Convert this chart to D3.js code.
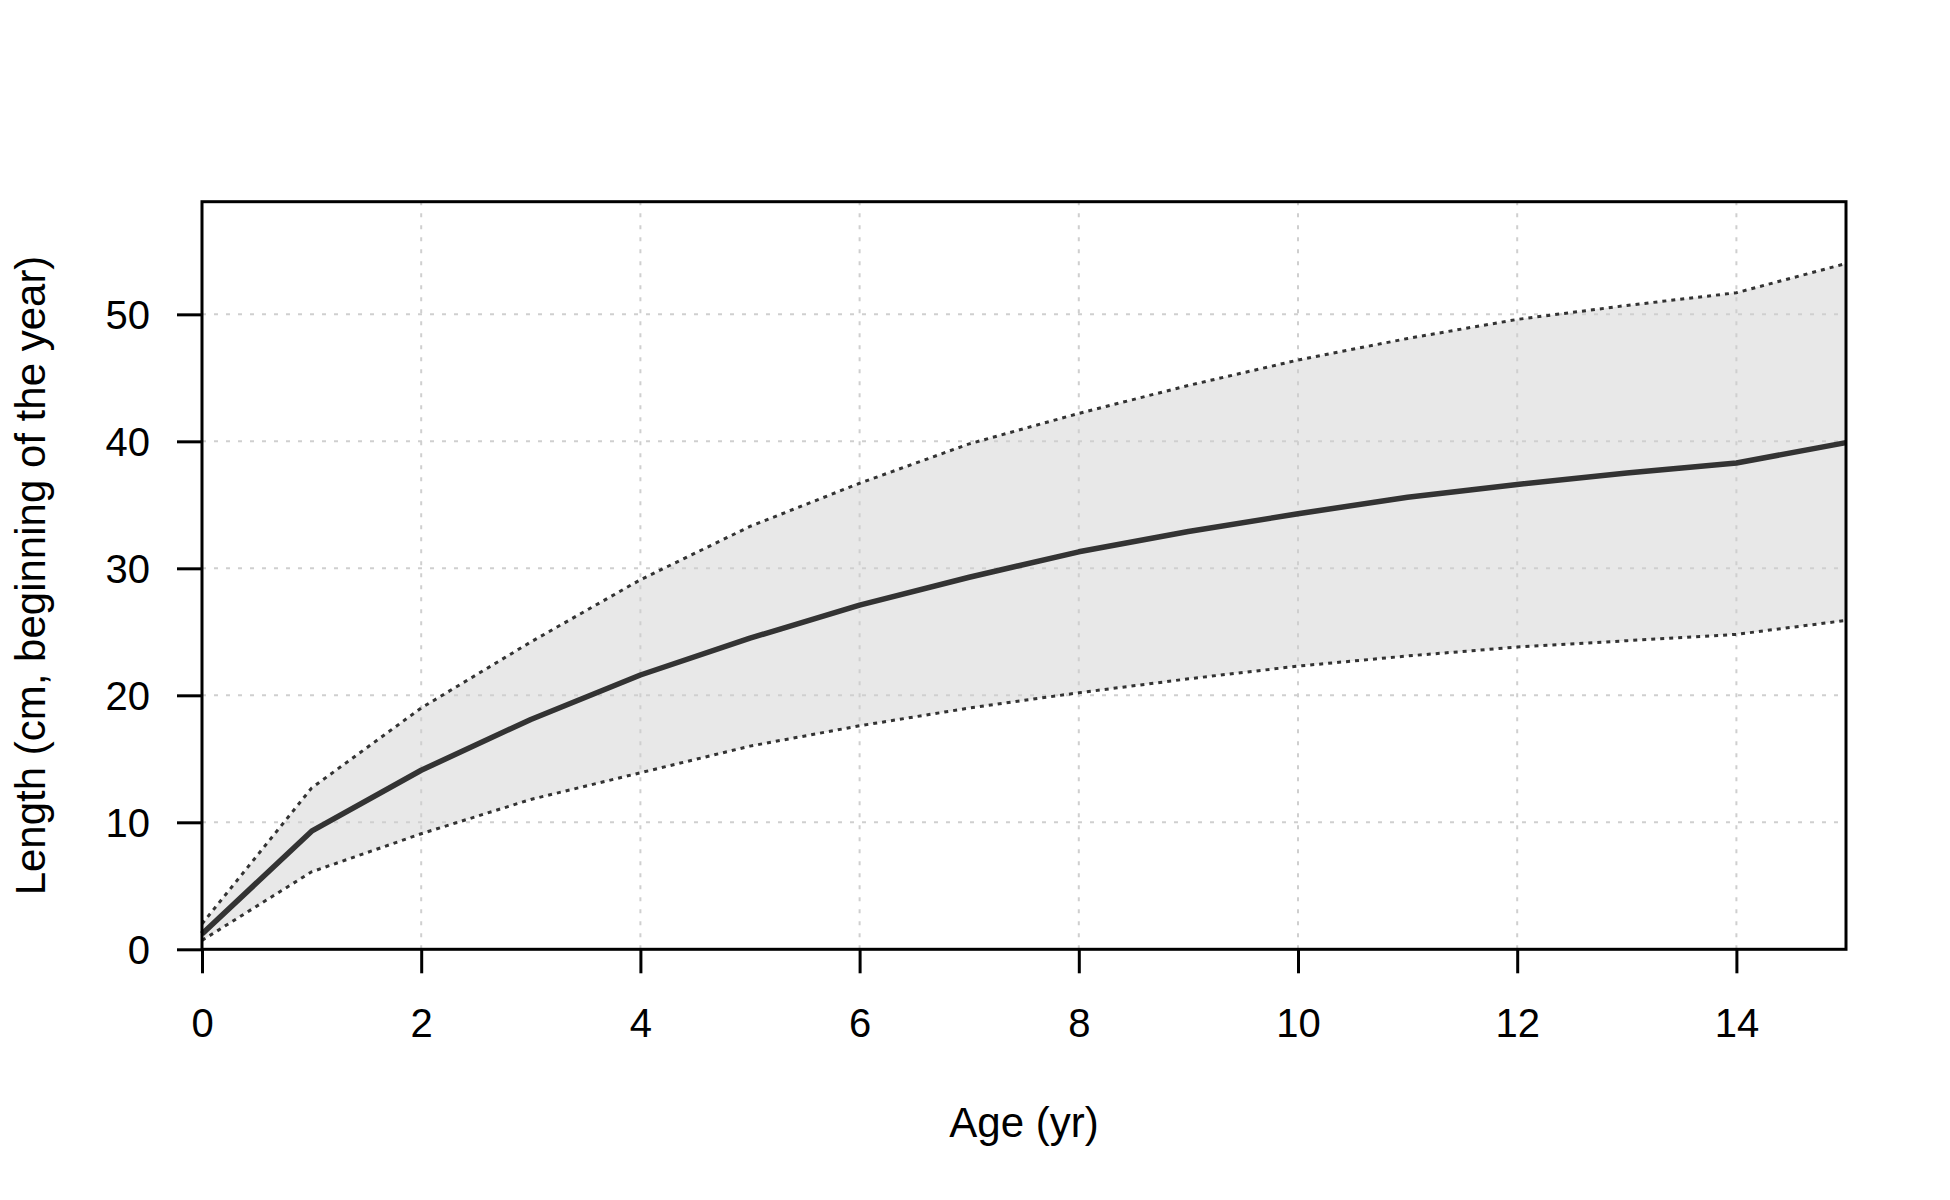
<!DOCTYPE html>
<html>
<head>
<meta charset="utf-8">
<script src="https://cdn.jsdelivr.net/npm/d3@7"></script>
<style>
  html, body { margin: 0; padding: 0; background: #fff; }
  svg { display: block; }
  text { font-family: Arial, "Liberation Sans", sans-serif; fill: #000; }
</style>
</head>
<body>
<svg id="chart" width="1950" height="1200"></svg>
<script>
// ---- data ----
const ages = [0, 1, 2, 3, 4, 5, 6, 7, 8, 9, 10, 11, 12, 13, 14, 15];
const lengthMean  = [1.2, 9.3, 14.1, 18.1, 21.6, 24.5, 27.1, 29.3, 31.3, 32.9, 34.3, 35.6, 36.6, 37.5, 38.3, 39.9];
const lengthUpper = [2.0, 12.7, 19.0, 24.2, 29.1, 33.3, 36.7, 39.8, 42.2, 44.4, 46.4, 48.1, 49.6, 50.7, 51.7, 54.0];
const lengthLower = [0.7, 6.1, 9.1, 11.8, 13.9, 16.0, 17.6, 19.0, 20.2, 21.3, 22.3, 23.1, 23.8, 24.3, 24.8, 25.9];
const xTicks = [0, 2, 4, 6, 8, 10, 12, 14];
const yTicks = [0, 10, 20, 30, 40, 50];
const xTitle = "Age (yr)";
const yTitle = "Length (cm, beginning of the year)";

// ---- layout ----
const svg = d3.select("#chart");
const L = 202, R = 1846, T = 201.7, B = 949.3;
const x = d3.scaleLinear().domain([0, 15]).range([L, R]);
const y = d3.scaleLinear().domain([0, 58.87]).range([B, T]);

svg.append("rect").attr("width", 1950).attr("height", 1200).attr("fill", "#fff");

const rows = ages.map((a, i) => ({ a, m: lengthMean[i], u: lengthUpper[i], l: lengthLower[i] }));

// band
svg.append("path")
  .datum(rows)
  .attr("fill", "#e8e8e8")
  .attr("d", d3.area().x(d => x(d.a)).y0(d => y(d.l)).y1(d => y(d.u)));

// grid
const grid = svg.append("g").attr("stroke", "#cfcfcf").attr("stroke-width", 2)
  .attr("stroke-dasharray", "4,8").attr("fill", "none");
grid.selectAll("line.v").data(xTicks.filter(v => v > 0)).join("line")
  .attr("x1", d => x(d)).attr("x2", d => x(d)).attr("y1", B).attr("y2", T);
grid.selectAll("line.h").data(yTicks.filter(v => v > 0)).join("line")
  .attr("y1", d => y(d)).attr("y2", d => y(d)).attr("x1", L).attr("x2", R);

// bounds
["u", "l"].forEach(k => {
  svg.append("path").datum(rows)
    .attr("fill", "none").attr("stroke", "#333").attr("stroke-width", 3)
    .attr("stroke-dasharray", "4,5")
    .attr("d", d3.line().x(d => x(d.a)).y(d => y(d[k])));
});

// mean line
svg.append("path").datum(rows)
  .attr("fill", "none").attr("stroke", "#333").attr("stroke-width", 5.5)
  .attr("stroke-linejoin", "round")
  .attr("d", d3.line().x(d => x(d.a)).y(d => y(d.m)));

// axes
const xAxis = svg.append("g").attr("transform", `translate(0,${B})`)
  .call(d3.axisBottom(x).tickValues(xTicks).tickSize(24).tickPadding(0).tickFormat(d3.format("d")));
xAxis.select(".domain").remove();
xAxis.selectAll(".tick line").attr("stroke", "#000").attr("stroke-width", 3);
xAxis.selectAll(".tick text").attr("font-size", 40).attr("y", 88).attr("dy", null)
  .attr("font-family", "Arial, 'Liberation Sans', sans-serif").attr("fill", "#000");

const yAxis = svg.append("g").attr("transform", `translate(${L},0)`)
  .call(d3.axisLeft(y).tickValues(yTicks).tickSize(25).tickPadding(0).tickFormat(d3.format("d")));
yAxis.select(".domain").remove();
yAxis.selectAll(".tick line").attr("stroke", "#000").attr("stroke-width", 3);
yAxis.selectAll(".tick text").attr("font-size", 40).attr("x", -52).attr("dy", "0.36em")
  .attr("font-family", "Arial, 'Liberation Sans', sans-serif").attr("fill", "#000");

// box
svg.append("rect").attr("x", L).attr("y", T).attr("width", R - L).attr("height", B - T)
  .attr("fill", "none").attr("stroke", "#000").attr("stroke-width", 3);

// titles
svg.append("text").attr("x", (L + R) / 2).attr("y", 1136.5).attr("text-anchor", "middle")
  .attr("font-size", 42).text(xTitle);
svg.append("text").attr("transform", `translate(45,${(T + B) / 2}) rotate(-90)`)
  .attr("text-anchor", "middle").attr("font-size", 42).text(yTitle);
</script>
</body>
</html>
